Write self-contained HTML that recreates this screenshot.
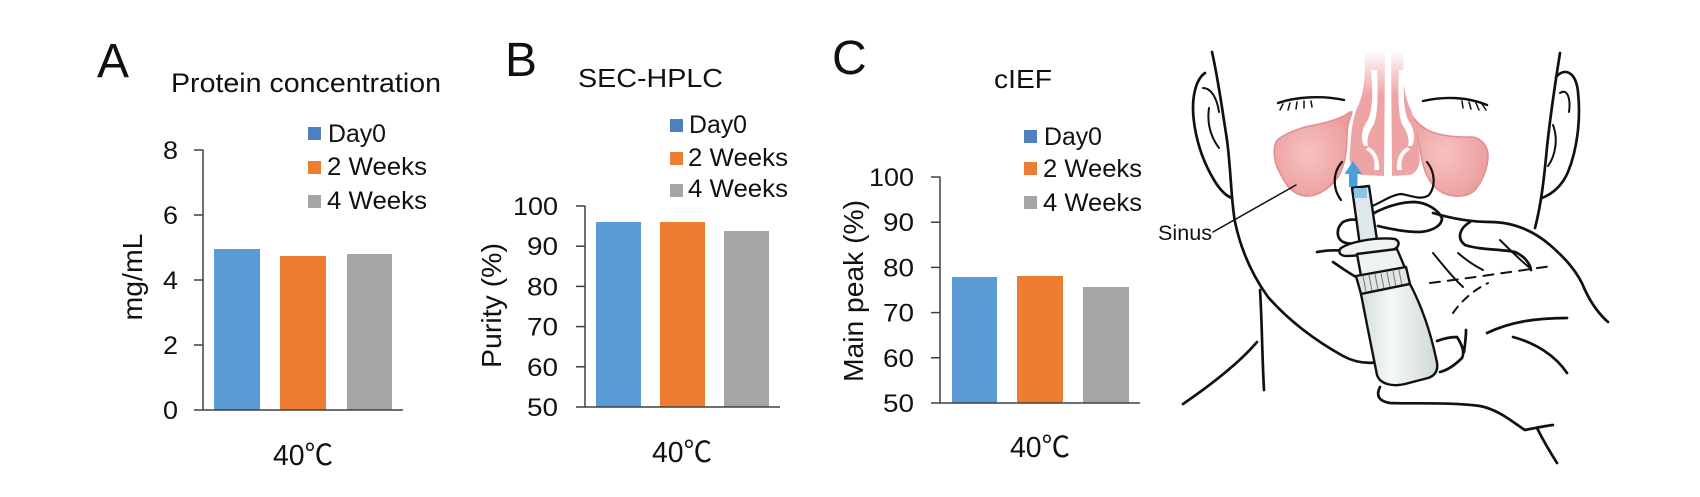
<!DOCTYPE html>
<html>
<head>
<meta charset="utf-8">
<style>
  html,body{margin:0;padding:0;background:#fff;}
  svg{display:block;}
  text{font-family:"Liberation Sans","Noto Sans CJK SC",Arial,sans-serif;fill:#111;}
</style>
</head>
<body>
<svg width="1700" height="497" viewBox="0 0 1700 497" xmlns="http://www.w3.org/2000/svg">
  <defs>
    <linearGradient id="nf" x1="0" y1="50" x2="0" y2="95" gradientUnits="userSpaceOnUse">
      <stop offset="0" stop-color="#eea4a4" stop-opacity="0"/>
      <stop offset="1" stop-color="#eea4a4" stop-opacity="1"/>
    </linearGradient>
    <radialGradient id="sinL" cx="0.45" cy="0.5" r="0.6">
      <stop offset="0" stop-color="#f6c2c2"/>
      <stop offset="1" stop-color="#ec9c9c"/>
    </radialGradient>
    <linearGradient id="bodyG" x1="0" y1="0" x2="1" y2="0">
      <stop offset="0" stop-color="#d5dede"/>
      <stop offset="0.4" stop-color="#f4f7f7"/>
      <stop offset="1" stop-color="#cfd9d9"/>
    </linearGradient>
  </defs>

  <!-- ================= Panel A ================= -->
  <text x="97" y="77" font-size="48">A</text>
  <text x="171" y="92" font-size="27" textLength="270" lengthAdjust="spacingAndGlyphs">Protein concentration</text>

  <rect x="308" y="127" width="13" height="13" fill="#4E80BD"/>
  <text x="328" y="142" font-size="25" textLength="58" lengthAdjust="spacingAndGlyphs">Day0</text>
  <rect x="308" y="161" width="13" height="13" fill="#ED7D31"/>
  <text x="327" y="175" font-size="25" textLength="100" lengthAdjust="spacingAndGlyphs">2 Weeks</text>
  <rect x="308" y="195" width="13" height="13" fill="#A5A5A5"/>
  <text x="327" y="209" font-size="25" textLength="100" lengthAdjust="spacingAndGlyphs">4 Weeks</text>

  <rect x="214" y="249" width="46" height="161" fill="#5B9BD5"/>
  <rect x="280" y="256" width="46" height="154" fill="#ED7D31"/>
  <rect x="347" y="254" width="45" height="156" fill="#A5A5A5"/>

  <g stroke="#404040" stroke-width="1.5" fill="none">
    <line x1="203" y1="149.5" x2="203" y2="410"/>
    <line x1="194" y1="410" x2="403" y2="410"/>
    <line x1="194" y1="150" x2="203" y2="150"/>
    <line x1="194" y1="215" x2="203" y2="215"/>
    <line x1="194" y1="280" x2="203" y2="280"/>
    <line x1="194" y1="345" x2="203" y2="345"/>
  </g>
  <g font-size="25" text-anchor="end">
    <text x="178" y="159" textLength="15" lengthAdjust="spacingAndGlyphs">8</text>
    <text x="178" y="224" textLength="15" lengthAdjust="spacingAndGlyphs">6</text>
    <text x="178" y="289" textLength="15" lengthAdjust="spacingAndGlyphs">4</text>
    <text x="178" y="354" textLength="15" lengthAdjust="spacingAndGlyphs">2</text>
    <text x="178" y="419" textLength="15" lengthAdjust="spacingAndGlyphs">0</text>
  </g>
  <text transform="translate(142,277) rotate(-90)" text-anchor="middle" font-size="28" textLength="87" lengthAdjust="spacingAndGlyphs">mg/mL</text>
  <text x="273" y="465" font-size="29" textLength="60" lengthAdjust="spacingAndGlyphs">40℃</text>

  <!-- ================= Panel B ================= -->
  <text x="505" y="76" font-size="48">B</text>
  <text x="578" y="87" font-size="26" textLength="145" lengthAdjust="spacingAndGlyphs">SEC-HPLC</text>

  <rect x="670" y="119" width="13" height="13" fill="#4E80BD"/>
  <text x="689" y="133" font-size="25" textLength="58" lengthAdjust="spacingAndGlyphs">Day0</text>
  <rect x="670" y="152" width="13" height="13" fill="#ED7D31"/>
  <text x="688" y="166" font-size="25" textLength="100" lengthAdjust="spacingAndGlyphs">2 Weeks</text>
  <rect x="670" y="184" width="13" height="13" fill="#A5A5A5"/>
  <text x="688" y="197" font-size="25" textLength="100" lengthAdjust="spacingAndGlyphs">4 Weeks</text>

  <rect x="596" y="222" width="45" height="185" fill="#5B9BD5"/>
  <rect x="660" y="222" width="45" height="185" fill="#ED7D31"/>
  <rect x="724" y="231" width="45" height="176" fill="#A5A5A5"/>

  <g stroke="#404040" stroke-width="1.5" fill="none">
    <line x1="585" y1="205.5" x2="585" y2="407"/>
    <line x1="576" y1="407" x2="780" y2="407"/>
    <line x1="576" y1="206" x2="585" y2="206"/>
    <line x1="576" y1="246.2" x2="585" y2="246.2"/>
    <line x1="576" y1="286.4" x2="585" y2="286.4"/>
    <line x1="576" y1="326.6" x2="585" y2="326.6"/>
    <line x1="576" y1="366.8" x2="585" y2="366.8"/>
  </g>
  <g font-size="25" text-anchor="end">
    <text x="558" y="215" textLength="45" lengthAdjust="spacingAndGlyphs">100</text>
    <text x="558" y="255.2" textLength="31" lengthAdjust="spacingAndGlyphs">90</text>
    <text x="558" y="295.4" textLength="31" lengthAdjust="spacingAndGlyphs">80</text>
    <text x="558" y="335.6" textLength="31" lengthAdjust="spacingAndGlyphs">70</text>
    <text x="558" y="375.8" textLength="31" lengthAdjust="spacingAndGlyphs">60</text>
    <text x="558" y="416" textLength="31" lengthAdjust="spacingAndGlyphs">50</text>
  </g>
  <text transform="translate(501,305.5) rotate(-90)" text-anchor="middle" font-size="28" textLength="125" lengthAdjust="spacingAndGlyphs">Purity (%)</text>
  <text x="652" y="462" font-size="29" textLength="60" lengthAdjust="spacingAndGlyphs">40℃</text>

  <!-- ================= Panel C ================= -->
  <text x="832" y="74" font-size="48">C</text>
  <text x="994" y="88" font-size="26" textLength="58" lengthAdjust="spacingAndGlyphs">cIEF</text>

  <rect x="1024" y="130" width="13" height="13" fill="#4E80BD"/>
  <text x="1044" y="145" font-size="25" textLength="58" lengthAdjust="spacingAndGlyphs">Day0</text>
  <rect x="1024" y="162" width="13" height="13" fill="#ED7D31"/>
  <text x="1043" y="177" font-size="25" textLength="99" lengthAdjust="spacingAndGlyphs">2 Weeks</text>
  <rect x="1024" y="196" width="13" height="13" fill="#A5A5A5"/>
  <text x="1043" y="211" font-size="25" textLength="99" lengthAdjust="spacingAndGlyphs">4 Weeks</text>

  <rect x="952" y="277" width="45" height="126" fill="#5B9BD5"/>
  <rect x="1017" y="276" width="46" height="127" fill="#ED7D31"/>
  <rect x="1083" y="287" width="46" height="116" fill="#A5A5A5"/>

  <g stroke="#404040" stroke-width="1.5" fill="none">
    <line x1="940" y1="176.5" x2="940" y2="403"/>
    <line x1="931" y1="403" x2="1140" y2="403"/>
    <line x1="931" y1="177" x2="940" y2="177"/>
    <line x1="931" y1="222.2" x2="940" y2="222.2"/>
    <line x1="931" y1="267.4" x2="940" y2="267.4"/>
    <line x1="931" y1="312.6" x2="940" y2="312.6"/>
    <line x1="931" y1="357.8" x2="940" y2="357.8"/>
  </g>
  <g font-size="25" text-anchor="end">
    <text x="914" y="186" textLength="45" lengthAdjust="spacingAndGlyphs">100</text>
    <text x="914" y="231.2" textLength="31" lengthAdjust="spacingAndGlyphs">90</text>
    <text x="914" y="276.4" textLength="31" lengthAdjust="spacingAndGlyphs">80</text>
    <text x="914" y="321.6" textLength="31" lengthAdjust="spacingAndGlyphs">70</text>
    <text x="914" y="366.8" textLength="31" lengthAdjust="spacingAndGlyphs">60</text>
    <text x="914" y="412" textLength="31" lengthAdjust="spacingAndGlyphs">50</text>
  </g>
  <text transform="translate(863,291) rotate(-90)" text-anchor="middle" font-size="28" textLength="182" lengthAdjust="spacingAndGlyphs">Main peak (%)</text>
  <text x="1010" y="457" font-size="29" textLength="60" lengthAdjust="spacingAndGlyphs">40℃</text>

  <!-- ================= Illustration ================= -->
  <g stroke="#e48f8f" stroke-width="1.6" fill="url(#sinL)">
    <path d="M1350,112 C1340,120 1320,124 1305,127 C1292,131 1280,136 1276,142 C1272,152 1275,165 1281,175 C1286,185 1292,194 1305,196 C1318,197 1330,188 1338,177 C1345,166 1347,150 1347,135 C1347,125 1350,118 1352,112 Z"/>
    <path d="M1410,112 C1415,122 1422,128 1432,132 C1445,137 1460,137 1473,137 C1482,139 1488,146 1488,156 C1488,168 1482,182 1475,190 C1468,197 1455,198 1443,193 C1432,187 1425,175 1422,160 C1420,148 1417,130 1410,118 Z"/>
  </g>
  <g fill="url(#nf)" stroke="none">
    <path d="M1364,50 C1366,75 1364,95 1357,108 C1352,120 1351,135 1350,150 C1348,163 1352,172 1362,175 L1384,176 L1385,50 Z"/>
    <path d="M1391,50 L1392,176 L1410,175 C1419,172 1421,162 1419,150 C1417,135 1415,118 1410,108 C1404,95 1402,75 1404,50 Z"/>
  </g>
  <g fill="#fff" stroke="none">
    <path d="M1371,70 C1373,90 1373,108 1368,120 C1362,128 1360,138 1364,146 L1368,146 C1366,138 1370,130 1374,124 C1378,115 1378,90 1377,70 Z"/>
    <path d="M1405,70 C1403,90 1403,108 1408,120 C1414,128 1416,138 1412,146 L1408,146 C1410,138 1406,130 1402,124 C1398,115 1398,90 1399,70 Z"/>
    <rect x="1386" y="62" width="4" height="114"/>
    <path d="M1366,150 C1372,152 1376,160 1374,170 L1379,170 C1380,160 1376,150 1368,147 Z"/>
    <path d="M1410,150 C1404,152 1400,160 1402,170 L1397,170 C1396,160 1400,150 1408,147 Z"/>
  </g>
  <path d="M1353,161 L1362,174 L1357.5,174 L1357.5,187 L1349,187 L1349,174 L1344.5,174 Z" fill="#47a0d8"/>

  <g fill="none" stroke="#111" stroke-width="2.7" stroke-linecap="round" stroke-linejoin="round">
    <path d="M1212,52 C1218,78 1222,108 1227,140 C1231,170 1231,200 1235,222 C1241,250 1252,275 1268,297 C1290,322 1318,342 1343,356 C1356,363 1368,364 1380,362"/>
    <path d="M1205,73 C1195,80 1191,100 1194,122 C1197,145 1205,165 1214,180 C1220,190 1226,196 1232,198"/>
    <path d="M1203,88 C1211,88 1217,98 1219,112" stroke-width="2"/>
    <path d="M1209,108 C1207,122 1210,136 1219,148" stroke-width="2"/>
    <path d="M1260,290 C1262,320 1262,355 1264,390"/>
    <path d="M1257,342 C1240,362 1215,382 1183,404"/>
    <path d="M1560,53 C1556,78 1551,110 1547,147 C1544,180 1541,205 1535,228"/>
    <path d="M1556,77 C1565,67 1576,72 1578,92 C1581,120 1577,150 1568,172 C1562,186 1552,194 1542,198"/>
    <path d="M1560,93 C1567,88 1571,98 1569,112" stroke-width="2"/>
    <path d="M1553,125 C1558,138 1556,155 1548,166" stroke-width="2"/>
    <path d="M1278,103 C1295,97 1322,95 1344,100" stroke-width="2.4"/>
    <path d="M1283,104 L1280,110 M1290,103 L1288,110 M1297,102 L1296,109 M1304,101 L1304,108 M1311,101 L1312,107" stroke-width="1.5"/>
    <path d="M1423,101 C1445,96 1468,97 1487,105" stroke-width="2.4"/>
    <path d="M1462,101 L1463,108 M1469,102 L1471,109 M1476,103 L1479,110 M1482,104 L1486,110" stroke-width="1.5"/>
    <path d="M1342,162 C1333,172 1332,188 1341,200" stroke-width="2.2"/>
    <path d="M1427,162 C1435,172 1436,186 1429,195 C1421,201 1410,195 1401,194 C1390,195 1381,203 1370,207" stroke-width="2.2"/>
    <path d="M1372,214 C1385,207 1400,202 1415,202 C1428,203 1438,210 1442,218 C1442,226 1432,231 1420,232 C1405,232 1390,229 1378,226"/>
    <path d="M1433,213 C1450,218 1470,222 1490,222 C1510,222 1530,228 1550,245 C1565,258 1578,272 1585,290 C1592,305 1600,315 1608,322"/>
    <path d="M1470,222 C1460,228 1456,238 1465,245 C1480,250 1500,249 1515,252 C1524,256 1530,263 1531,270"/>
    <path d="M1433,253 C1443,265 1452,277 1463,287 M1458,253 C1466,260 1475,266 1483,270 M1500,240 C1510,250 1520,260 1530,268" stroke-width="2"/>
    <path d="M1430,283 C1470,278 1510,272 1552,266" stroke-width="2" stroke-dasharray="10 8"/>
    <path d="M1453,313 C1462,300 1474,290 1488,283" stroke-width="2" stroke-dasharray="8 7"/>
    <path d="M1487,333 C1510,322 1535,318 1567,318"/>
    <path d="M1513,337 C1535,343 1555,355 1567,373"/>
    <path d="M1437,341 C1445,338 1452,337 1457,337 C1462,345 1465,352 1462,358 C1455,365 1448,370 1440,372"/>
    <path d="M1466,330 C1466,338 1465,345 1464,352"/>
    <path d="M1380,387 C1376,395 1378,401 1390,403 C1420,404 1450,402 1480,406 C1500,410 1515,424 1525,430 C1535,428 1545,426 1553,425"/>
    <path d="M1537,428 C1543,440 1550,452 1557,463"/>
    <path d="M1357,220 C1352,219 1347,220 1343,222 C1336,228 1336,238 1343,242 C1348,244 1354,244 1358,243"/>
    <path d="M1317,252 C1328,250 1338,250 1345,251"/>
    <path d="M1333,262 C1342,268 1350,274 1358,278"/>
    <path d="M1213,232 L1296,185" stroke-width="1.5"/>
  </g>

  <g stroke="#111" stroke-width="2.4" stroke-linejoin="round">
    <path d="M1352,188 L1369,186 L1377,240 L1360,246 Z" fill="#dfe8ec"/>
    <rect x="1354" y="188" width="13" height="10" fill="#8cc6e4" stroke="none"/>
    <path d="M1341,248 C1352,241 1378,237 1395,239 C1401,242 1399,248 1392,250 C1375,254 1355,256 1345,256 C1339,255 1338,251 1341,248 Z" fill="#eef2f2"/>
    <path d="M1357,254 L1361,276 L1405,268 L1397,249 Z" fill="#eef2f2"/>
    <path d="M1356,276 L1406,267 L1410,284 L1361,294 Z" fill="#dfe6e6"/>
    <path d="M1363,276 L1366,292 M1369,275 L1372,291 M1375,274 L1378,290 M1381,273 L1384,289 M1387,272 L1390,288 M1393,271 L1396,287 M1399,270 L1402,286" stroke-width="1" stroke="#777" fill="none"/>
    <path d="M1361,294 C1366,320 1372,350 1377,375 C1380,384 1392,387 1405,384 L1428,378 C1437,375 1439,368 1436,358 C1430,330 1421,305 1410,284 Z" fill="url(#bodyG)"/>
  </g>

  <text x="1158" y="240" font-size="21" textLength="54" lengthAdjust="spacingAndGlyphs">Sinus</text>
</svg>
</body>
</html>
